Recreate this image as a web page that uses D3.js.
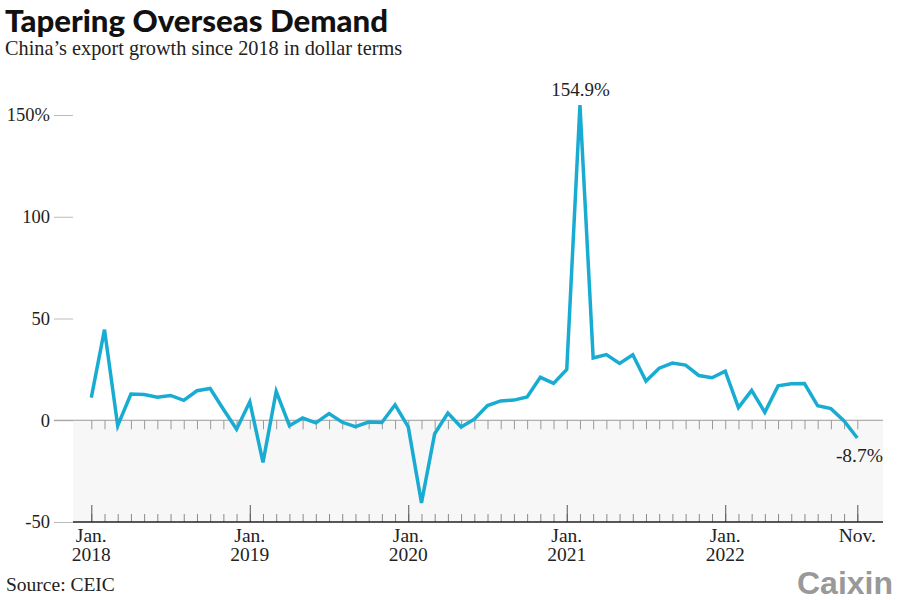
<!DOCTYPE html>
<html>
<head>
<meta charset="utf-8">
<script src="https://cdn.jsdelivr.net/npm/d3@7"></script>
<style>
  body { margin: 0; background: #fff; }
  svg text { font-family: "Liberation Serif", serif; fill: #222; }
</style>
</head>
<body>
<svg id="chart" width="900" height="600"></svg>
<script>
// monthly export growth, Jan 2018 .. Nov 2022 (%)
var months = d3.range(59);
var growth = [
  11.1, 44.5, -2.7, 12.9, 12.6, 11.3, 12.2, 9.8, 14.5, 15.6, 5.4, -4.4,
  9.1, -20.7, 14.2, -2.7, 1.1, -1.3, 3.3, -1.0, -3.2, -0.9, -1.1, 7.6,
  -3.3, -40.6, -6.6, 3.5, -3.3, 0.5, 7.2, 9.5, 9.9, 11.4, 21.1, 18.1,
  24.9, 154.9, 30.6, 32.3, 27.9, 32.2, 19.3, 25.6, 28.1, 27.1, 22.0, 20.9,
  24.1, 6.2, 14.7, 3.9, 16.9, 17.9, 18.0, 7.1, 5.7, -0.3, -8.7
];
var yTicks = [-50, 0, 50, 100, 150];
var xMajor = [0, 12, 24, 36, 48, 58];
var xLabels = [["Jan.", "2018"], ["Jan.", "2019"], ["Jan.", "2020"], ["Jan.", "2021"], ["Jan.", "2022"], ["Nov."]];

var svg = d3.select("#chart");
var x = d3.scaleLinear().domain([0, 58]).range([91.3, 857.3]);
var y = d3.scaleLinear().domain([-50, 150]).range([522, 115]);
var left = 73, right = 883;

// title + subtitle
svg.append("text").attr("x", 5).attr("y", 32)
  .style("font-family", "Lato").style("font-weight", 900).style("font-size", "31.2px")
  .style("fill", "#111").text("Tapering Overseas Demand");
svg.append("text").attr("x", 5).attr("y", 55)
  .style("font-size", "20.3px").text("China\u2019s export growth since 2018 in dollar terms");

// shaded negative band
svg.append("rect").attr("x", left).attr("y", y(0))
  .attr("width", right - left).attr("height", y(-50) - y(0)).attr("fill", "#f7f7f7");

// y axis
var yAxis = svg.append("g").attr("transform", "translate(73,0)")
  .call(d3.axisLeft(y).tickValues(yTicks).tickSize(19).tickPadding(4)
    .tickFormat(function (d) { return d === 150 ? d + "%" : d; }));
yAxis.select(".domain").remove();
yAxis.selectAll("line").attr("stroke", "#bbb");
yAxis.selectAll("text").style("font-size", "18.5px").style("font-family", "Liberation Serif").attr("fill", "#222");

// zero line
svg.append("line").attr("x1", 54).attr("x2", right)
  .attr("y1", y(0)).attr("y2", y(0)).attr("stroke", "#999");

// month ticks under zero line
var zeroTicks = svg.append("g").attr("transform", "translate(0," + y(0) + ")")
  .call(d3.axisBottom(x).tickValues(months).tickSize(9).tickFormat(""));
zeroTicks.select(".domain").remove();
zeroTicks.selectAll("line").attr("stroke", "#999");

// bottom axis: minor month ticks
var bottom = svg.append("g").attr("transform", "translate(0," + y(-50) + ")")
  .call(d3.axisTop(x).tickValues(months).tickSize(8).tickFormat(""));
bottom.select(".domain").remove();
bottom.selectAll("line").attr("stroke", "#888");

// major ticks
var major = svg.append("g").attr("transform", "translate(0," + y(-50) + ")")
  .call(d3.axisTop(x).tickValues(xMajor).tickSize(17).tickFormat(""));
major.select(".domain").remove();
major.selectAll("line").attr("stroke", "#555");

svg.append("line").attr("x1", left).attr("x2", right)
  .attr("y1", y(-50)).attr("y2", y(-50)).attr("stroke", "#222").attr("stroke-width", 1.5);

// x labels
xMajor.forEach(function (m, i) {
  var t = svg.append("text").attr("text-anchor", "middle").style("font-size", "19.5px");
  xLabels[i].forEach(function (s, j) {
    t.append("tspan").attr("x", x(m)).attr("y", 542 + j * 19).text(s);
  });
});

// line
var line = d3.line().x(function (d, i) { return x(months[i]); }).y(function (d) { return y(d); });
svg.append("path").datum(growth).attr("d", line)
  .attr("fill", "none").attr("stroke", "#19acd3").attr("stroke-width", 3.5)
  .attr("stroke-linejoin", "miter");

// annotations
svg.append("text").attr("x", 580.5).attr("y", 96).attr("text-anchor", "middle")
  .style("font-size", "19px").text("154.9%");
svg.append("text").attr("x", right).attr("y", 462).attr("text-anchor", "end")
  .style("font-size", "19.5px").text("-8.7%");

// footer
svg.append("text").attr("x", 6).attr("y", 591).style("font-size", "19.5px").text("Source: CEIC");
svg.append("text").attr("x", 893).attr("y", 594).attr("text-anchor", "end")
  .style("font-family", "Liberation Sans").style("font-weight", "bold").style("font-size", "32px")
  .style("fill", "#999").text("Caixin");
</script>
</body>
</html>
